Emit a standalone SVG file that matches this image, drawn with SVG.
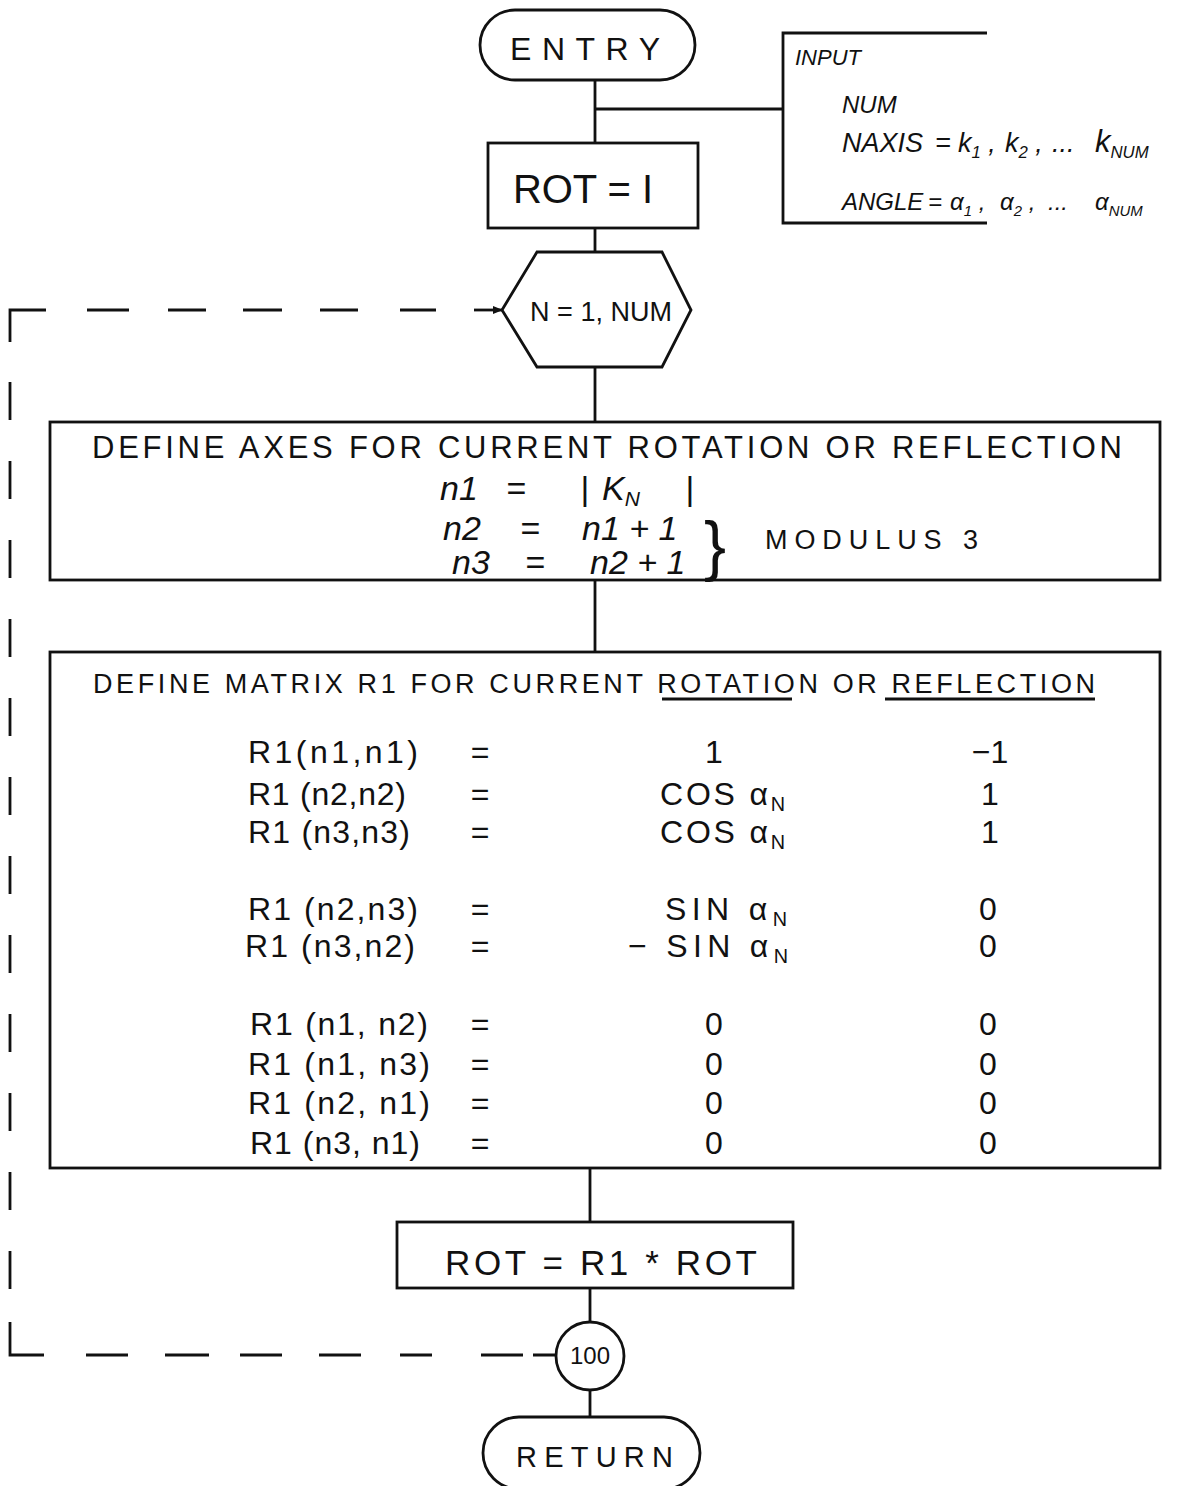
<svg xmlns="http://www.w3.org/2000/svg" width="1204" height="1486" viewBox="0 0 1204 1486">
<style>
.s{fill:none;stroke:#111;stroke-width:2.8}
.t{font-family:"Liberation Sans",Arial,sans-serif;fill:#111}
.c{text-anchor:middle}
.i{font-style:italic}
.sub{font-size:62%}
.row{font-size:32px}
</style>
<defs>
<marker id="ah" viewBox="0 0 10 10" refX="9" refY="5" markerWidth="10" markerHeight="10" orient="auto" markerUnits="userSpaceOnUse">
<path d="M0,1 L10,5 L0,9 z" fill="#111"/>
</marker>
</defs>
<rect width="1204" height="1486" fill="#fff"/>
<g id="connectors">
<line class="s" x1="595" y1="80" x2="595" y2="143"/>
<line class="s" x1="595" y1="109" x2="783" y2="109"/>
<line class="s" x1="595" y1="228" x2="595" y2="252"/>
<line class="s" x1="595" y1="367" x2="595" y2="422"/>
<line class="s" x1="595" y1="580" x2="595" y2="652"/>
<line class="s" x1="590" y1="1168" x2="590" y2="1222"/>
<line class="s" x1="590" y1="1288" x2="590" y2="1322"/>
<line class="s" x1="590" y1="1390" x2="590" y2="1417"/>
<g id="loopback">
<path class="s" d="M10,342 V310 H46"/>
<path class="s" d="M87,310 H129 M168,310 H206 M243,310 H282 M320,310 H358 M400,310 H436"/>
<line class="s" x1="474" y1="310" x2="502" y2="310" marker-end="url(#ah)"/>
<path class="s" d="M10,382 V420 M10,461 V499 M10,540 V578 M10,619 V657 M10,698 V736 M10,777 V815 M10,856 V894 M10,935 V973 M10,1014 V1052 M10,1093 V1131 M10,1172 V1210 M10,1251 V1289"/>
<path class="s" d="M10,1322 V1355 H44"/>
<path class="s" d="M86,1355 H128 M165,1355 H209 M240,1355 H282 M319,1355 H361 M400,1355 H432 M481,1355 H523 M533,1355 H556"/>
</g>
</g>
<g id="entry">
<rect class="s" x="480" y="10" width="215" height="70" rx="35"/>
<text class="t" x="510" y="60" font-size="32" textLength="150">ENTRY</text>
</g>
<g id="input">
<path class="s" d="M987,33 H783 V223 H987"/>
<text class="t i" x="795" y="65" font-size="22">INPUT</text>
<text class="t i" x="842" y="113" font-size="24">NUM</text>
<text class="t i" font-size="27" y="152"><tspan x="842">NAXIS</tspan><tspan x="935">=</tspan><tspan x="958">k</tspan><tspan class="sub" dy="6">1</tspan><tspan dy="-6"> ,</tspan><tspan x="1005">k</tspan><tspan class="sub" dy="6">2</tspan><tspan dy="-6"> ,</tspan><tspan x="1052">...</tspan><tspan x="1095" font-size="31">k</tspan><tspan class="sub" dy="6">NUM</tspan></text>
<text class="t i" font-size="24" y="210"><tspan x="842">ANGLE</tspan><tspan x="928">=</tspan><tspan x="950">α</tspan><tspan class="sub" dy="6">1</tspan><tspan dy="-6"> ,</tspan><tspan x="1000">α</tspan><tspan class="sub" dy="6">2</tspan><tspan dy="-6"> ,</tspan><tspan x="1048">...</tspan><tspan x="1095">α</tspan><tspan class="sub" dy="6">NUM</tspan></text>
</g>
<g id="init">
<rect class="s" x="488" y="143" width="210" height="85"/>
<text class="t" x="513" y="203" font-size="40" textLength="140">ROT = I</text>
</g>
<g id="loop">
<polygon class="s" points="537,252 662,252 691,310 662,367 537,367 502,310"/>
<text class="t c" x="601" y="321" font-size="27">N = 1, NUM</text>
</g>
<g id="axes">
<rect class="s" x="50" y="422" width="1110" height="158"/>
<text class="t" x="92" y="458" font-size="31" textLength="1030">DEFINE AXES FOR CURRENT ROTATION OR REFLECTION</text>
<text class="t i" font-size="34" y="500"><tspan x="440">n1</tspan><tspan x="506">=</tspan><tspan x="580">|</tspan><tspan x="602">K</tspan><tspan class="sub" dy="6">N</tspan><tspan x="685" dy="-6">|</tspan></text>
<text class="t i" font-size="34" y="540"><tspan x="443">n2</tspan><tspan x="520">=</tspan><tspan x="582">n1 + 1</tspan></text>
<text class="t i" font-size="34" y="574"><tspan x="452">n3</tspan><tspan x="525">=</tspan><tspan x="590">n2 + 1</tspan></text>
<text class="t" x="704" y="568" font-size="66">}</text>
<text class="t" x="765" y="549" font-size="27" textLength="213">MODULUS 3</text>
</g>
<g id="matrix">
<rect class="s" x="50" y="652" width="1110" height="516"/>
<text class="t" x="93" y="693" font-size="27" textLength="1002">DEFINE MATRIX R1 FOR CURRENT ROTATION OR REFLECTION</text>
<line class="s" x1="662" y1="699" x2="792" y2="699"/>
<line class="s" x1="885" y1="699" x2="1095" y2="699"/>
<g class="row">
<text class="t" x="248" y="763" textLength="170">R1(n1,n1)</text>
<text class="t" x="248" y="805" textLength="158">R1 (n2,n2)</text>
<text class="t" x="248" y="843" textLength="162">R1 (n3,n3)</text>
<text class="t" x="248" y="920" textLength="170">R1 (n2,n3)</text>
<text class="t" x="245" y="957" textLength="170">R1 (n3,n2)</text>
<text class="t" x="250" y="1035" textLength="178">R1 (n1, n2)</text>
<text class="t" x="248" y="1075" textLength="182">R1 (n1, n3)</text>
<text class="t" x="248" y="1114" textLength="182">R1 (n2, n1)</text>
<text class="t" x="250" y="1154" textLength="170">R1 (n3, n1)</text>
<text class="t c" x="480" y="763">=</text>
<text class="t c" x="480" y="805">=</text>
<text class="t c" x="480" y="843">=</text>
<text class="t c" x="480" y="920">=</text>
<text class="t c" x="480" y="957">=</text>
<text class="t c" x="480" y="1035">=</text>
<text class="t c" x="480" y="1075">=</text>
<text class="t c" x="480" y="1114">=</text>
<text class="t c" x="480" y="1154">=</text>
<text class="t c" x="714" y="763">1</text>
<text class="t" x="660" y="805" textLength="125">COS α<tspan class="sub" dy="6">N</tspan></text>
<text class="t" x="660" y="843" textLength="125">COS α<tspan class="sub" dy="6">N</tspan></text>
<text class="t" x="665" y="920" textLength="122">SIN α<tspan class="sub" dy="6">N</tspan></text>
<text class="t" x="628" y="957" textLength="160">− SIN α<tspan class="sub" dy="6">N</tspan></text>
<text class="t c" x="714" y="1035">0</text>
<text class="t c" x="714" y="1075">0</text>
<text class="t c" x="714" y="1114">0</text>
<text class="t c" x="714" y="1154">0</text>
<text class="t c" x="990" y="763">−1</text>
<text class="t c" x="990" y="805">1</text>
<text class="t c" x="990" y="843">1</text>
<text class="t c" x="988" y="920">0</text>
<text class="t c" x="988" y="957">0</text>
<text class="t c" x="988" y="1035">0</text>
<text class="t c" x="988" y="1075">0</text>
<text class="t c" x="988" y="1114">0</text>
<text class="t c" x="988" y="1154">0</text>
</g>
</g>
<g id="update">
<rect class="s" x="397" y="1222" width="396" height="66"/>
<text class="t" x="445" y="1275" font-size="35" textLength="312">ROT = R1 * ROT</text>
</g>
<g id="n100">
<ellipse class="s" cx="590" cy="1356" rx="34" ry="34"/>
<text class="t c" x="590" y="1364" font-size="24">100</text>
</g>
<g id="return">
<rect class="s" x="483" y="1417" width="217" height="72" rx="36"/>
<text class="t" x="516" y="1467" font-size="29" textLength="157">RETURN</text>
</g>
</svg>
